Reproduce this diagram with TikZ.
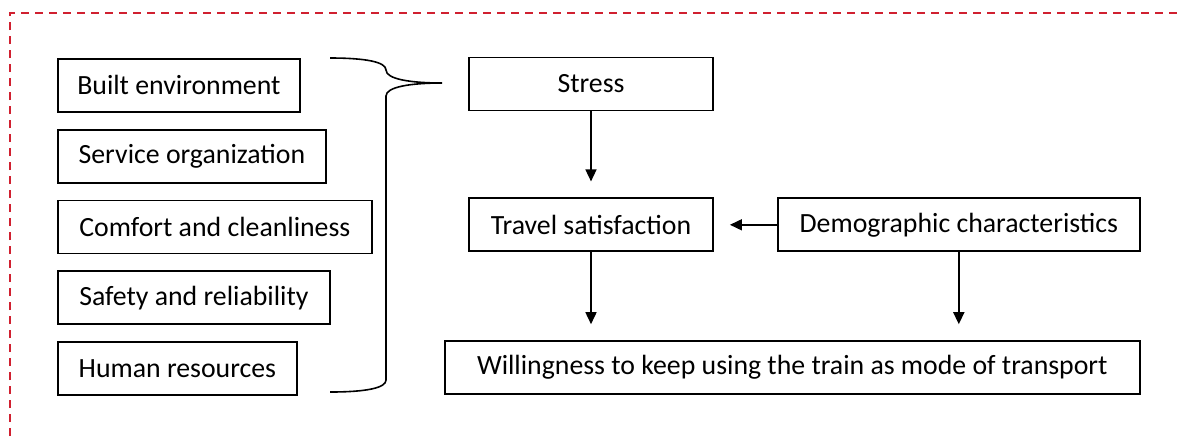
\documentclass[tikz,border=0pt]{standalone}
\usepackage{fontspec}
\setmainfont{Carlito}
\usetikzlibrary{positioning}
\usetikzlibrary{arrows.meta}
\definecolor{borderred}{RGB}{208,32,48}

\begin{document}
\begin{tikzpicture}[x=0.5pt, y=-0.5pt,
		box/.style = {draw, line width=0.9pt, inner xsep=9pt, minimum height=26.5pt, font=\fontsize{13.9}{16}\selectfont},
		arr/.style = {-{Triangle[length=6pt,width=5.5pt]}, line width=0.8pt, shorten >=8pt}]
	\useasboundingbox (0,0) rectangle (1182,436);
	\draw[borderred, line width=0.8pt, dash pattern=on 4pt off 3pt] (10,436) -- (10,13) -- (1182,13);
	\node[box, minimum width=121pt, anchor=north west] (built) at (57,58) {Built environment};
	\node[box, minimum width=134pt, below=8pt of built.south west, anchor=north west] (service) {Service organization};
	\node[box, minimum width=157pt, below=8pt of service.south west, anchor=north west] (comfort) {Comfort and cleanliness};
	\node[box, minimum width=136pt, below=8pt of comfort.south west, anchor=north west] (safety) {Safety and reliability};
	\node[box, minimum width=119.5pt, below=8pt of safety.south west, anchor=north west] (human) {Human resources};
	\draw[line width=0.8pt] (330,58) .. controls (366,58) and (386,62) .. (386,70)
		.. controls (386,79) and (410,83) .. (442,83)
		.. controls (410,83) and (386,87) .. (386,96) -- (386,380)
		.. controls (386,388) and (366,392) .. (330,392);
	\node[box, minimum width=122pt] (stress) at (591,84) {Stress};
	\node[box, minimum width=122pt, below=43pt of stress] (travel) {Travel satisfaction};
	\node[box, minimum width=181pt, right=31.5pt of travel] (demo) {Demographic characteristics};
	\node[box, minimum width=347.5pt, below=44pt of demo.south east, anchor=north east] (will) {Willingness to keep using the train as mode of transport};
	\draw[arr] (stress) -- (travel);
	\draw[arr] (demo) -- (travel);
	\draw[arr] (travel.south) -- (travel.south |- will.north);
	\draw[arr] (demo.south) -- (demo.south |- will.north);
\end{tikzpicture}
\end{document}
